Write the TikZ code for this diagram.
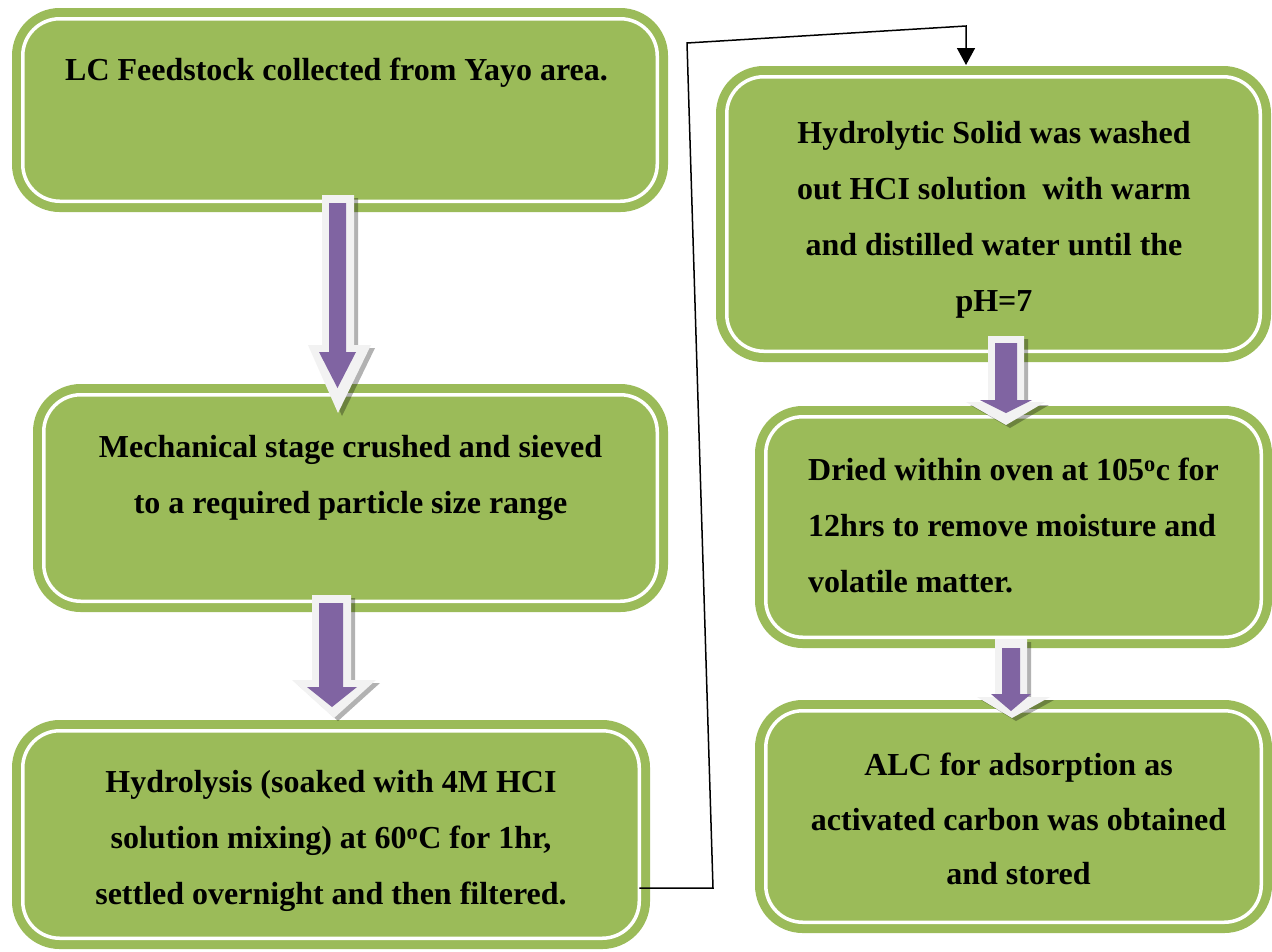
\documentclass[tikz,border=0pt]{standalone}
\usepackage{fontspec}
\setmainfont{Liberation Serif}
\usetikzlibrary{arrows.meta}
\definecolor{boxgreen}{HTML}{9BBB59}
\definecolor{arrowpurple}{HTML}{8064A2}
\definecolor{rimgray}{HTML}{F2F2F2}
\newcommand\blockarr[2]{%
  \fill[arrowshade, shift={(4,3)}] #1;
  \fill[arrowrim] #1;
  \fill[arrowbody] #2;}
\begin{document}
\begin{tikzpicture}[x=1pt,y=-1pt,
  box/.style={draw=boxgreen, fill=boxgreen, line width=9pt, double=white,
    double distance=3.5pt, rounded corners=37pt, inner sep=0pt, outer sep=0pt},
  txt/.style={font=\fontsize{32}{56}\selectfont\bfseries, inner sep=0pt,
    align=center, text=black},
  arrowrim/.style={fill=rimgray},
  arrowbody/.style={fill=arrowpurple},
  arrowshade/.style={fill=black, opacity=0.3},
  link/.style={draw=black, line width=1.5pt, line join=miter,
    -{Triangle[width=18pt,length=17pt]}}
]
\fill[white] (0,0) rectangle (1272,951);
\useasboundingbox (0,0) rectangle (1272,951);

% boxes
\node[box, minimum width=634.5pt, minimum height=182.5pt] (b1) at (340,110) {};
\node[box, minimum width=613.5pt, minimum height=206.5pt] (b2) at (350.5,498) {};
\node[box, minimum width=616.5pt, minimum height=207.5pt] (b3) at (331,834.5) {};
\node[box, minimum width=533.5pt, minimum height=274.5pt] (b4) at (993.5,214) {};
\node[box, minimum width=495.5pt, minimum height=220.5pt] (b5) at (1013.5,527) {};
\node[box, minimum width=495.5pt, minimum height=211.5pt] (b6) at (1013.5,816.5) {};

% block arrows
\blockarr{(322,195) -- (354,195) -- (354,345) -- (371,345) -- (338,413) -- (308,345) -- (322,345) -- cycle}
         {(329,203) -- (346,203) -- (346,352) -- (356,352) -- (337.5,388) -- (319,352) -- (329,352) -- cycle}
\blockarr{(312,595) -- (351,595) -- (351,680) -- (376,680) -- (334,718) -- (292,680) -- (312,680) -- cycle}
         {(319,603) -- (343,603) -- (343,687) -- (357,687) -- (332,707) -- (307,687) -- (319,687) -- cycle}
\blockarr{(988,336) -- (1024,336) -- (1024,402) -- (1045,402) -- (1006,425) -- (966,402) -- (988,402) -- cycle}
         {(995,343) -- (1017,343) -- (1017,400) -- (1032,400) -- (1006,413) -- (980,400) -- (995,400) -- cycle}
\blockarr{(995,639) -- (1027,639) -- (1027,697) -- (1050,697) -- (1012,718) -- (977,697) -- (995,697) -- cycle}
         {(1002,648) -- (1020,648) -- (1020,694) -- (1031,694) -- (1011,711) -- (991,694) -- (1002,694) -- cycle}

% texts
\node[txt] (t1) at (336.5,72.5) {LC Feedstock collected from Yayo area.};
\node[txt] (t2) at (350.5,478) {Mechanical stage crushed and sieved\\to a required particle size range};
\node[txt] (t3) at (331,841) {Hydrolysis (soaked with 4M HCI\\solution mixing) at 60\textsuperscript{o}C for 1hr,\\settled overnight and then filtered.};
\node[txt] (t4) at (994,219.5) {Hydrolytic Solid was washed\\out HCI solution\ \ with warm\\and distilled water until the\\pH=7};
\node[txt, anchor=west, align=left] (t5) at (808,525) {Dried within oven at 105\textsuperscript{o}c for\\12hrs to remove moisture and\\volatile matter.};
\node[txt, font=\fontsize{32}{54.5}\selectfont\bfseries] (t6) at (1018.5,819) {ALC for adsorption as\\activated carbon was obtained\\and stored};

% connector
\coordinate (c1) at (713,888);
\coordinate (c2) at (687,43);
\coordinate (c3) at (966,26);
\coordinate (c4) at (966,65);
\draw[link] (b3.east |- c1) -- (c1) -- (c2) -- (c3) -- (c4);
\end{tikzpicture}
\end{document}
